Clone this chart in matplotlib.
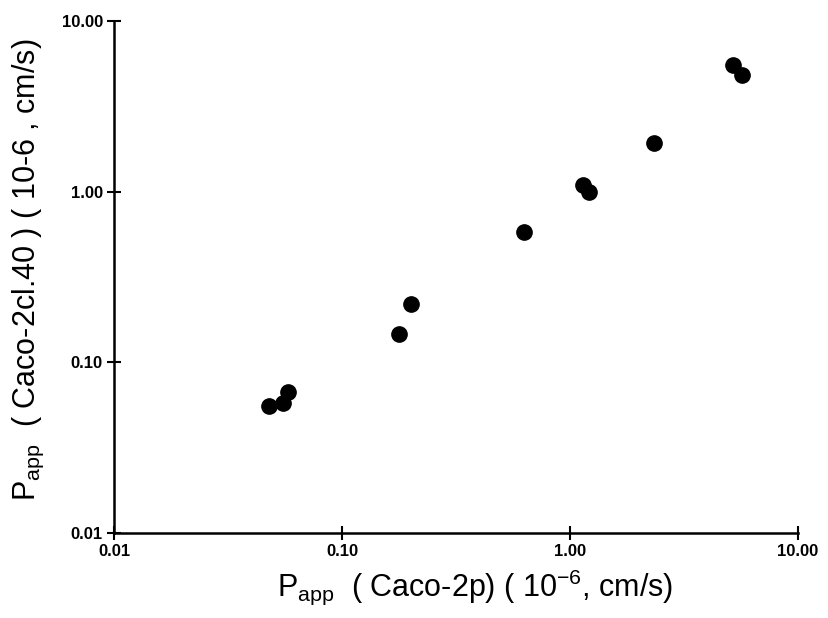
import matplotlib
matplotlib.use("Agg")
import matplotlib.pyplot as plt

caco2p = [0.048, 0.055, 0.058, 0.177, 0.200, 0.628, 1.14, 1.215, 2.34, 5.19, 5.68]
caco2cl40 = [0.0553, 0.0575, 0.0674, 0.146, 0.221, 0.584, 1.09, 1.00, 1.94, 5.50, 4.80]
tick_vals = [0.01, 0.1, 1, 10]
tick_labels = ["0.01", "0.10", "1.00", "10.00"]

plt.rcParams['font.family'] = ['Liberation Sans', 'DejaVu Sans']
plt.rcParams['mathtext.fontset'] = 'custom'
plt.rcParams['mathtext.rm'] = 'Liberation Sans'

fig = plt.figure(figsize=(8.29, 6.18), dpi=100)
ax = fig.add_axes([0.1375, 0.1375, 0.8251, 0.8285])
ax.plot(caco2p, caco2cl40, 'o', color='black', markersize=11, linestyle='none', clip_on=False)
ax.set_xscale('log')
ax.set_yscale('log')
ax.set_xlim(0.01, 10)
ax.set_ylim(0.01, 10)
for s in ['top', 'right']:
    ax.spines[s].set_visible(False)
for s in ['left', 'bottom']:
    ax.spines[s].set_linewidth(1.8)
ax.set_xticks(tick_vals)
ax.set_xticklabels(tick_labels)
ax.set_yticks(tick_vals)
ax.set_yticklabels(tick_labels)
ax.minorticks_off()
ax.tick_params(direction='inout', length=10, width=1.5, labelsize=12, pad=3)
for lbl in ax.get_xticklabels() + ax.get_yticklabels():
    lbl.set_fontweight('bold')
ax.set_xlabel(r"P$_{\mathregular{app}}$  ( Caco-2p) ( 10$^{\mathregular{-6}}$, cm/s)", fontsize=22)
ax.set_ylabel(r"P$_{\mathregular{app}}$  ( Caco-2cl.40 ) ( 10-6 , cm/s)", fontsize=22)
ax.xaxis.set_label_coords(0.528, -0.067, transform=ax.transAxes)
ax.xaxis.label.set_va('top')
ax.yaxis.set_label_coords(-0.1, 0.515, transform=ax.transAxes)
fig.savefig("out.png", dpi=100)
